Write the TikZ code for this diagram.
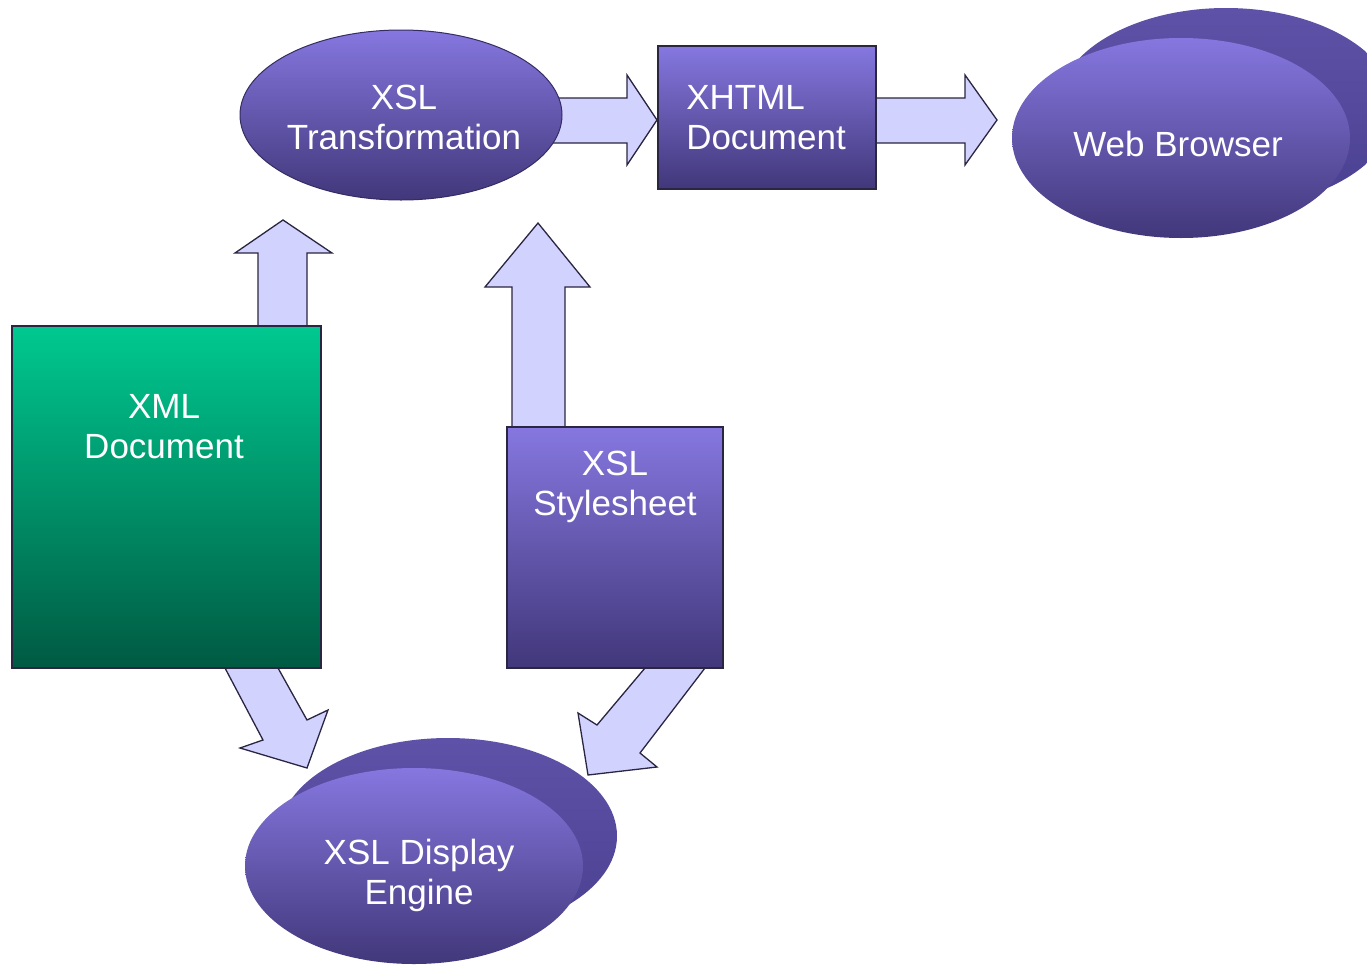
\documentclass[tikz,border=0pt]{standalone}
\usepackage{fontspec}
\setmainfont{Liberation Sans}
\usetikzlibrary{shapes.geometric}
\definecolor{ptop}{HTML}{8577DF}
\definecolor{pbot}{HTML}{41377A}
\definecolor{gtop}{HTML}{00C990}
\definecolor{gbot}{HTML}{005A42}
\definecolor{arrowfill}{HTML}{D2D2FF}
\definecolor{edge}{HTML}{2A2540}
\definecolor{backtop}{HTML}{5E52A8}
\definecolor{backbot}{HTML}{4A4090}
\begin{document}
\begin{tikzpicture}[x=1pt,y=-1pt,
  lbl/.style={text=white, font=\fontsize{35}{40}\selectfont, align=center, inner sep=0pt},
  purpbox/.style={draw=edge, line width=1.6pt, top color=ptop, bottom color=pbot, inner sep=0pt},
  greenbox/.style={draw=edge, line width=1.6pt, top color=gtop, bottom color=gbot, inner sep=0pt},
  purpell/.style={ellipse, draw=pbot!80!black, line width=1pt, top color=ptop, bottom color=pbot, inner sep=0pt},
  backell/.style={ellipse, draw=none, top color=backtop, bottom color=backbot, inner sep=0pt},
  blockarrow/.style={fill=arrowfill, draw=edge, line width=1.3pt, line join=miter}
]
\useasboundingbox (0,0) rectangle (1367,964);
\clip (0,0) rectangle (1367,964);

% ---- block arrows (behind shapes)
\draw[blockarrow] (550,98) -- (627,98) -- (627,75) -- (657,120) -- (627,165) -- (627,143) -- (550,143) -- cycle;
\draw[blockarrow] (876,98) -- (965,98) -- (965,75) -- (997,120) -- (965,165) -- (965,143) -- (876,143) -- cycle;
\draw[blockarrow] (258,327) -- (258,253) -- (235,253) -- (283,220) -- (332,253) -- (307,253) -- (307,327) -- cycle;
\draw[blockarrow] (512,427) -- (512,287) -- (485,287) -- (538,223) -- (590,287) -- (565,287) -- (565,427) -- cycle;
\draw[blockarrow] (225,668) -- (263,740) -- (240,748) -- (307,768) -- (328,710) -- (307,720) -- (278,668) -- cycle;
\draw[blockarrow] (645,668) -- (597,725) -- (578,713) -- (588,775) -- (657,767) -- (640,753) -- (705,668) -- cycle;

% ---- shapes
\node[purpell, minimum width=322pt, minimum height=170pt] (xslt) at (401,115) {};
\node[purpbox, minimum width=218pt, minimum height=143pt] (xhtml) at (767,117.5) {};
\node[backell, minimum width=338pt, minimum height=200pt] (webback) at (1226,108) {};
\node[purpell, draw=none, minimum width=338pt, minimum height=200pt] (web) at (1181,138) {};
\node[greenbox, minimum width=309pt, minimum height=342pt] (xml) at (166.5,497) {};
\node[purpbox, minimum width=216pt, minimum height=241pt] (xsls) at (615,547.5) {};
\node[backell, minimum width=338pt, minimum height=196pt] (engback) at (448,836) {};
\node[purpell, draw=none, minimum width=338pt, minimum height=196pt] (eng) at (414,866) {};

% ---- labels
\node[lbl] (xsltT) at (404,117) {XSL\\Transformation};
\node[lbl, align=left] (xhtmlT) at (766,118) {XHTML\\Document};
\node[lbl] (webT) at (1178,144) {Web Browser};
\node[lbl] (xmlT) at (164,427) {XML\\Document};
\node[lbl] (xslsT) at (615,487) {XSL\\Stylesheet};
\node[lbl] (engT) at (419,875) {XSL Display\\Engine};
\end{tikzpicture}
\end{document}
